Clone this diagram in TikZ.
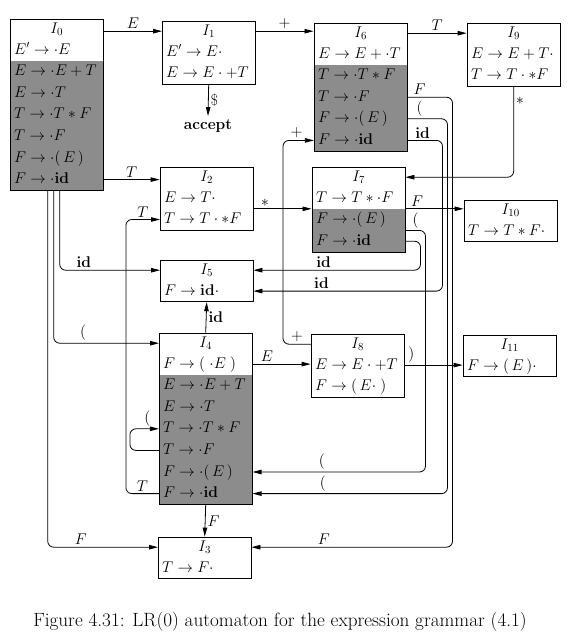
\RequirePackage{fix-cm}
\documentclass[tikz,border=0pt]{standalone}
\usetikzlibrary{arrows.meta,positioning,fit}

\begin{document}
\begin{tikzpicture}[x=1pt, y=-1pt, font=\fontsize{15.5}{18}\selectfont,
  row/.style={minimum width=93pt, minimum height=21pt, inner sep=0pt, text height=12pt, text depth=4pt},
  ttl/.style={row, minimum height=20pt, anchor=north west},
  itm/.style={row, text width=85pt, align=left, below=0pt of #1},
  cls/.style={itm=#1, fill=black!45, draw=black!45, line width=0.6pt},
  box/.style={draw, inner sep=0pt, line width=0.8pt},
  tr/.style={-{Triangle[length=9pt,width=4.5pt]}, line width=0.8pt, rounded corners=6pt},
  lbl/.style={inner sep=2pt}
]
  \useasboundingbox (0,0) rectangle (578,640);

  % I0
  \node[ttl] (I0-0) at (10,19) {$I_0$};
  \node[itm=I0-0] (I0-1) {$E'\to\cdot E$};
  \node[cls=I0-1] (I0-2) {$E\to\cdot E+T$};
  \node[cls=I0-2] (I0-3) {$E\to\cdot T$};
  \node[cls=I0-3] (I0-4) {$T\to\cdot T*F$};
  \node[cls=I0-4] (I0-5) {$T\to\cdot F$};
  \node[cls=I0-5] (I0-6) {$F\to\cdot(\,E\,)$};
  \node[cls=I0-6] (I0-7) {$F\to\cdot\mathbf{id}$};
  \node[box, fit=(I0-0)(I0-7)] (I0) {};

  % I1
  \node[ttl] (I1-0) at (162,21) {$I_1$};
  \node[itm=I1-0] (I1-1) {$E'\to E\cdot$};
  \node[itm=I1-1] (I1-2) {$E\to E\cdot +T$};
  \node[box, fit=(I1-0)(I1-2)] (I1) {};

  % I6
  \node[ttl] (I6-0) at (314,23) {$I_6$};
  \node[itm=I6-0] (I6-1) {$E\to E+\cdot T$};
  \node[cls=I6-1] (I6-2) {$T\to\cdot T*F$};
  \node[cls=I6-2] (I6-3) {$T\to\cdot F$};
  \node[cls=I6-3] (I6-4) {$F\to\cdot(\,E\,)$};
  \node[cls=I6-4] (I6-5) {$F\to\cdot\mathbf{id}$};
  \node[box, fit=(I6-0)(I6-5)] (I6) {};

  % I9
  \node[ttl] (I9-0) at (467,23) {$I_9$};
  \node[itm=I9-0] (I9-1) {$E\to E+T\cdot$};
  \node[itm=I9-1] (I9-2) {$T\to T\cdot *F$};
  \node[box, fit=(I9-0)(I9-2)] (I9) {};

  % I2
  \node[ttl] (I2-0) at (160,167) {$I_2$};
  \node[itm=I2-0] (I2-1) {$E\to T\cdot$};
  \node[itm=I2-1] (I2-2) {$T\to T\cdot *F$};
  \node[box, fit=(I2-0)(I2-2)] (I2) {};

  % I7
  \node[ttl] (I7-0) at (312,167) {$I_7$};
  \node[itm=I7-0] (I7-1) {$T\to T*\cdot F$};
  \node[cls=I7-1] (I7-2) {$F\to\cdot(\,E\,)$};
  \node[cls=I7-2] (I7-3) {$F\to\cdot\mathbf{id}$};
  \node[box, fit=(I7-0)(I7-3)] (I7) {};

  % I10
  \node[ttl] (I10-0) at (464,200) {$I_{10}$};
  \node[itm=I10-0] (I10-1) {$T\to T*F\cdot$};
  \node[box, fit=(I10-0)(I10-1)] (I10) {};

  % I5
  \node[ttl] (I5-0) at (160,260) {$I_5$};
  \node[itm=I5-0] (I5-1) {$F\to\mathbf{id}\cdot$};
  \node[box, fit=(I5-0)(I5-1)] (I5) {};

  % I4
  \node[ttl] (I4-0) at (159,333) {$I_4$};
  \node[itm=I4-0] (I4-1) {$F\to(\;\cdot E\;)$};
  \node[cls=I4-1] (I4-2) {$E\to\cdot E+T$};
  \node[cls=I4-2] (I4-3) {$E\to\cdot T$};
  \node[cls=I4-3] (I4-4) {$T\to\cdot T*F$};
  \node[cls=I4-4] (I4-5) {$T\to\cdot F$};
  \node[cls=I4-5] (I4-6) {$F\to\cdot(\,E\,)$};
  \node[cls=I4-6] (I4-7) {$F\to\cdot\mathbf{id}$};
  \node[box, fit=(I4-0)(I4-7)] (I4) {};

  % I8
  \node[ttl] (I8-0) at (311,334) {$I_8$};
  \node[itm=I8-0] (I8-1) {$E\to E\cdot +T$};
  \node[itm=I8-1] (I8-2) {$F\to(\,E\cdot\;)$};
  \node[box, fit=(I8-0)(I8-2)] (I8) {};

  % I11
  \node[ttl] (I11-0) at (463,335) {$I_{11}$};
  \node[itm=I11-0] (I11-1) {$F\to(\,E\,)\cdot$};
  \node[box, fit=(I11-0)(I11-1)] (I11) {};

  % I3
  \node[ttl] (I3-0) at (158,537) {$I_3$};
  \node[itm=I3-0] (I3-1) {$T\to F\cdot$};
  \node[box, fit=(I3-0)(I3-1)] (I3) {};

  \node (acc) at (208,126) {\textbf{accept}};

  % transitions
  \draw[tr] (I1-0.west -| I0.east) -- node[lbl,above]{$E$} (I1-0.west);
  \draw[tr] (I1-0.east) -- node[lbl,above]{$+$} (I1-0.east -| I6.west);
  \draw[tr] (I6-0.east) -- node[lbl,above]{$T$} (I6-0.east -| I9.west);
  \draw[tr] (I1.south) -- node[lbl,right]{\$} (acc.north);
  \draw[tr] (I9.south) |- node[lbl,right,pos=0.08]{$*$} (I7-0.east);
  \draw[tr] (I0-7.east) -- node[lbl,above]{$T$} (I0-7.east -| I2.west);
  \draw[tr] (I2-1.south east) -- node[lbl,above,pos=0.2]{$*$} (I2-1.south east -| I7.west);
  \draw[tr] (I7-1.south east) -- node[lbl,above,pos=0.2]{$F$} (I7-1.south east -| I10.west);
  \draw[tr] (I4-7.west) -- node[lbl,above]{$T$} ++(-33,0) |- node[lbl,above,pos=0.75]{$T$} (I2-2.west);
  \draw[tr] ([xshift=3pt]I0.south) |- node[lbl,above,pos=0.62]{$\mathbf{id}$} (I5-0.west);
  \draw[tr] ([xshift=-3pt]I0.south) |- node[lbl,above,pos=0.64]{$($} (I4-0.west);
  \draw[tr] ([xshift=-9pt]I0.south) |- node[lbl,above,pos=0.65]{$F$} (I3-0.west);
  \draw[tr] (I4.north) -- node[lbl,right]{$\mathbf{id}$} (I5.south);
  \draw[tr] (I4.south) -- node[lbl,right]{$F$} (I3.north);
  \draw[tr] (I4-1.east) -- node[lbl,above,pos=0.25]{$E$} (I4-1.east -| I8.west);
  \draw[tr] (I4-5.west) -- ++(-29,0) |- node[lbl,above,pos=0.8]{$($} (I4-4.west);
  \draw[tr] (I8-0.west) -- node[lbl,above]{$+$} ++(-28,0) |- node[lbl,above,pos=0.72]{$+$} (I6-5.west);
  \draw[tr] (I8-1.east) -- node[lbl,above,pos=0.12]{$)$} (I8-1.east -| I11.west);
  \draw[tr] (I6-3.east) -- node[lbl,above,pos=0.27]{$F$} ++(45,0) |- node[lbl,above,pos=0.82]{$F$} (I3-0.east);
  \draw[tr] (I6-4.east) -- node[lbl,above,pos=0.3]{$($} ++(40,0) |- node[lbl,above,pos=0.82]{$($} (I4-7.east);
  \draw[tr] (I6-5.east) -- node[lbl,above,pos=0.43]{$\mathbf{id}$} ++(35,0) |- node[lbl,above,pos=0.82]{$\mathbf{id}$} (I5-1.east);
  \draw[tr] (I7-2.south east) -- node[lbl,above]{$($} ++(20,0) |- node[lbl,above,pos=0.8]{$($} (I4-6.east);
  \draw[tr] (I7-3.east) -- ++(15,0) |- node[lbl,above,pos=0.79]{$\mathbf{id}$} (I5-0.east);

  \node (cap) at (280,622) {\fontsize{19.2}{23}\selectfont Figure 4.31: LR(0) automaton for the expression grammar (4.1)};
\end{tikzpicture}
\end{document}
